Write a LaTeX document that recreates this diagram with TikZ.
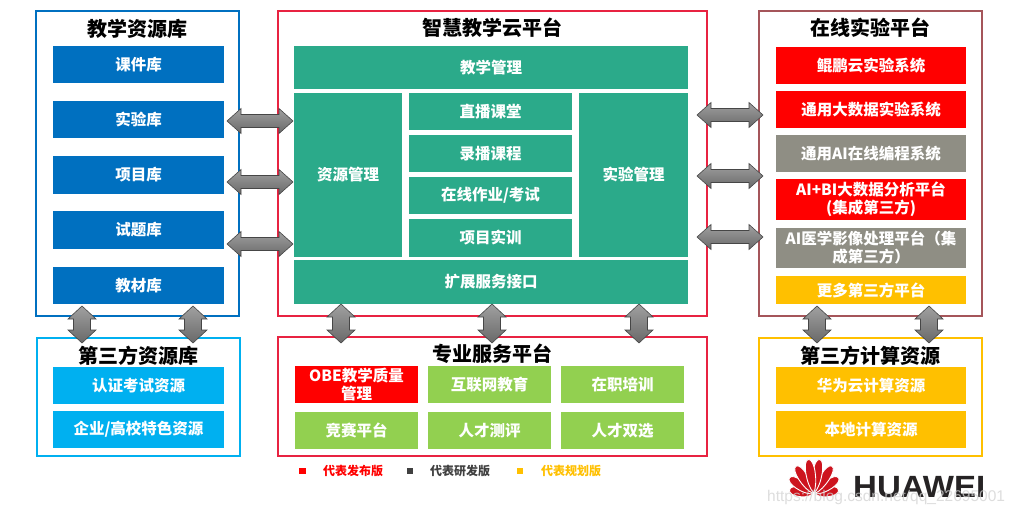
\documentclass[tikz,border=0pt]{standalone}
\usepackage{fontspec}
\setmainfont{Noto Sans CJK SC}
\newfontfamily\hwfont{Liberation Sans}
\usetikzlibrary{calc}
\definecolor{dblue}{HTML}{0070C0}
\definecolor{lblue}{HTML}{00B0F0}
\definecolor{tealx}{RGB}{43,170,138}
\definecolor{hred}{HTML}{FF0000}
\definecolor{hgray}{RGB}{143,142,132}
\definecolor{hyel}{HTML}{FFC000}
\definecolor{hgreen}{HTML}{92D050}
\definecolor{cborder}{RGB}{232,35,65}
\definecolor{rborder}{RGB}{165,85,90}
\definecolor{arrtop}{RGB}{160,160,160}
\definecolor{arrbot}{RGB}{105,105,105}
\definecolor{arrdraw}{RGB}{70,70,70}
\definecolor{hwtext}{RGB}{38,35,36}
\definecolor{hwred}{RGB}{205,20,30}
\definecolor{legdark}{RGB}{64,64,64}
\tikzset{
  frame/.style={draw=#1, line width=1.2pt},
  ttl/.style={font=\fontsize{20}{22}\selectfont\bfseries, text=black, inner sep=0},
  bx/.style={fill=#1, text=white, font=\fontsize{15.5}{18}\selectfont\bfseries, inner sep=0, align=center},
  darr/.style={top color=arrtop, bottom color=arrbot, draw=arrdraw, line width=0.6pt, line join=miter},
  leg/.style={font=\fontsize{12}{14}\selectfont\bfseries, inner sep=0, anchor=west},
  sq/.style={fill=#1, minimum size=6.5pt, inner sep=0},
  petalstyle/.style={fill=hwred, draw=white, line width=0.9pt},
}
\newcommand\harr[2]{\path[darr] let \p1=(#1), \p2=(#2) in
  (\x1,\y1) -- (\x1+14pt,\y1+12.5pt) -- (\x1+14pt,\y1+6.5pt) -- (\x2-14pt,\y2+6.5pt) -- (\x2-14pt,\y2+12.5pt)
  -- (\x2,\y2) -- (\x2-14pt,\y2-12.5pt) -- (\x2-14pt,\y2-6.5pt) -- (\x1+14pt,\y1-6.5pt) -- (\x1+14pt,\y1-12.5pt) -- cycle;}
\newcommand\varr[2]{\path[darr] let \p1=(#1), \p2=(#2) in
  (\x1,\y1) -- (\x1+14pt,\y1-13pt) -- (\x1+8.5pt,\y1-13pt) -- (\x2+8.5pt,\y2+13pt) -- (\x2+14pt,\y2+13pt)
  -- (\x2,\y2) -- (\x2-14pt,\y2+13pt) -- (\x2-8.5pt,\y2+13pt) -- (\x1-8.5pt,\y1-13pt) -- (\x1-14pt,\y1-13pt) -- cycle;}
\newcommand\petal[2]{\begin{scope}[shift={(814,495)}, rotate=#1]
  \path[petalstyle] (2,0) .. controls (0.3*#2,6) and (#2,6.5) .. (#2,0) .. controls (#2,-6.5) and (0.3*#2,-6) .. (2,0) -- cycle;
\end{scope}}
\begin{document}
\begin{tikzpicture}[x=1pt,y=-1pt]
\useasboundingbox[fill=white] (0,0) rectangle (1017,516);

% ---------- frames ----------
\draw[frame=dblue] (36,11) rectangle (239,316);
\draw[frame=cborder] (278,11) rectangle (707,316);
\draw[frame=rborder] (759,11) rectangle (982,316);
\draw[frame=lblue] (37,338) rectangle (240,456);
\draw[frame=cborder] (278,337) rectangle (707,456);
\draw[frame=hyel] (759,338) rectangle (982,456);

% ---------- titles ----------
\node[ttl] (t1) at (137.5,28.5) {教学资源库};
\node[ttl] (t2) at (492.5,28) {智慧教学云平台};
\node[ttl] (t3) at (870.5,28) {在线实验平台};
\node[ttl] (t4) at (138.5,355.5) {第三方资源库};
\node[ttl] (t5) at (492.5,353.5) {专业服务平台};
\node[ttl] (t6) at (870.5,355.5) {第三方计算资源};

% ---------- left: teaching resources ----------
\node[bx=dblue, minimum width=171pt, minimum height=37.5pt] (kj) at (138.5,64.5) {课件库};
\node[bx=dblue, minimum width=171pt, minimum height=37.5pt] (sy) at (138.5,119.5) {实验库};
\node[bx=dblue, minimum width=171pt, minimum height=37.5pt] (xm) at (138.5,175) {项目库};
\node[bx=dblue, minimum width=171pt, minimum height=37.5pt] (st) at (138.5,230) {试题库};
\node[bx=dblue, minimum width=171pt, minimum height=37.5pt] (jc) at (138.5,285.5) {教材库};

% ---------- center: cloud platform ----------
\node[bx=tealx, minimum width=394pt, minimum height=43pt] (jxgl) at (491,67.5) {教学管理};
\node[bx=tealx, minimum width=108pt, minimum height=164pt] (zygl) at (348,175) {资源管理};
\node[bx=tealx, minimum width=163pt, minimum height=37pt] (zb) at (490.5,111.5) {直播课堂};
\node[bx=tealx, minimum width=163pt, minimum height=37pt] (lb) at (490.5,153.5) {录播课程};
\node[bx=tealx, minimum width=163pt, minimum height=37pt] (zy) at (490.5,195.5) {在线作业/考试};
\node[bx=tealx, minimum width=163pt, minimum height=38pt] (sx) at (490.5,238) {项目实训};
\node[bx=tealx, minimum width=109pt, minimum height=164pt] (sygl) at (633.5,175) {实验管理};
\node[bx=tealx, minimum width=394pt, minimum height=44pt] (kz) at (491,282) {扩展服务接口};

% ---------- right: online experiment platform ----------
\node[bx=hred, minimum width=190pt, minimum height=37pt] (kp) at (871,65.5) {鲲鹏云实验系统};
\node[bx=hred, minimum width=190pt, minimum height=37pt] (dsj) at (871,109.5) {通用大数据实验系统};
\node[bx=hgray, minimum width=190pt, minimum height=37pt] (ai) at (871,153.5) {通用AI在线编程系统};
\node[bx=hred, minimum width=190pt, minimum height=41pt] (aibi) at (871,199.5) {AI+BI大数据分析平台\\(集成第三方)};
\node[bx=hgray, minimum width=190pt, minimum height=40pt] (yx) at (871,248) {AI医学影像处理平台（集\\成第三方）};
\node[bx=hyel, minimum width=190pt, minimum height=28pt] (gd) at (871,290) {更多第三方平台};

% ---------- lower left ----------
\node[bx=lblue, minimum width=171pt, minimum height=37pt] (rz) at (138.5,385.5) {认证考试资源};
\node[bx=lblue, minimum width=171pt, minimum height=37pt] (qy) at (138.5,429.5) {企业/高校特色资源};

% ---------- lower center ----------
\node[bx=hred, minimum width=123pt, minimum height=37pt] (obe) at (356.5,384.5) {OBE教学质量\\管理};
\node[bx=hgreen, minimum width=123pt, minimum height=37pt] (hlw) at (489.5,384.5) {互联网教育};
\node[bx=hgreen, minimum width=123pt, minimum height=37pt] (zz) at (622.5,384.5) {在职培训};
\node[bx=hgreen, minimum width=123pt, minimum height=37pt] (js) at (356.5,430.5) {竞赛平台};
\node[bx=hgreen, minimum width=123pt, minimum height=37pt] (cp) at (489.5,430.5) {人才测评};
\node[bx=hgreen, minimum width=123pt, minimum height=37pt] (sxn) at (622.5,430.5) {人才双选};

% ---------- lower right ----------
\node[bx=hyel, minimum width=190pt, minimum height=37pt] (hw) at (871,385.5) {华为云计算资源};
\node[bx=hyel, minimum width=190pt, minimum height=37pt] (bd) at (871,429.5) {本地计算资源};

% ---------- arrow end points ----------
\coordinate (la1) at (227,121); \coordinate (lb1) at (293,121);
\coordinate (la2) at (227,182); \coordinate (lb2) at (293,182);
\coordinate (la3) at (227,244); \coordinate (lb3) at (293,244);
\coordinate (ra1) at (697,115); \coordinate (rb1) at (763,115);
\coordinate (ra2) at (697,176); \coordinate (rb2) at (763,176);
\coordinate (ra3) at (697,237); \coordinate (rb3) at (763,237);
\coordinate (v1t) at (82,306);  \coordinate (v1b) at (82,343);
\coordinate (v2t) at (193,306); \coordinate (v2b) at (193,343);
\coordinate (v3t) at (341,304); \coordinate (v3b) at (341,343);
\coordinate (v4t) at (492,304); \coordinate (v4b) at (492,343);
\coordinate (v5t) at (639,304); \coordinate (v5b) at (639,343);
\coordinate (v6t) at (817,306); \coordinate (v6b) at (817,343);
\coordinate (v7t) at (929,306); \coordinate (v7b) at (929,343);

\harr{la1}{lb1} \harr{la2}{lb2} \harr{la3}{lb3}
\harr{ra1}{rb1} \harr{ra2}{rb2} \harr{ra3}{rb3}
\varr{v1t}{v1b} \varr{v2t}{v2b}
\varr{v3t}{v3b} \varr{v4t}{v4b} \varr{v5t}{v5b}
\varr{v6t}{v6b} \varr{v7t}{v7b}

% ---------- legend ----------
\node[sq=hred] (sq1) at (302.5,471) {};
\node[leg, text=hred] (l1) at (323,471) {代表发布版};
\node[sq=legdark] (sq2) at (410,471) {};
\node[leg, text=legdark] (l2) at (430,471) {代表研发版};
\node[sq=hyel] (sq3) at (520,471) {};
\node[leg, text=hyel] (l3) at (541,471) {代表规划版};

% ---------- Huawei logo ----------
\petal{12}{25} \petal{35}{30} \petal{58}{34} \petal{81}{36}
\petal{168}{25} \petal{145}{30} \petal{122}{34} \petal{99}{36}
\node[inner sep=0, anchor=base west, text=hwtext, font=\hwfont\bfseries\fontsize{30.7}{31}\selectfont] (hwt) at (853,497) {\scalebox{1.075}[1]{HUAWEI}};

% ---------- watermark ----------
\node[inner sep=0, anchor=west, text=gray!35, opacity=0.75, font=\hwfont\fontsize{15.5}{16}\selectfont] (wm) at (767,497) {https://blog.csdn.net/qq\_22695001};
\end{tikzpicture}
\end{document}
